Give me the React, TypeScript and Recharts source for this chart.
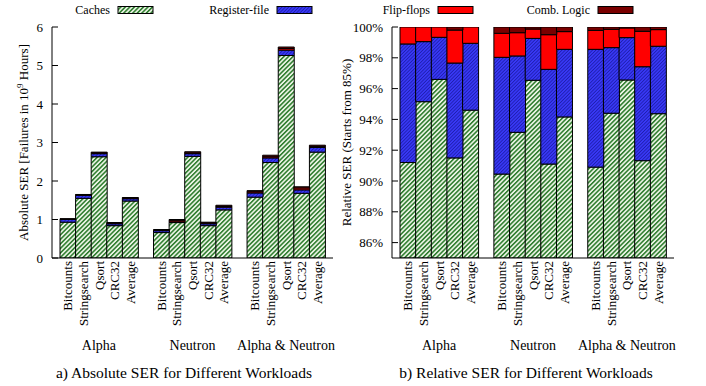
import React from "react";
import { BarChart, Bar, XAxis, YAxis } from "recharts";

const groups = ["Alpha", "Neutron", "Alpha & Neutron"];
const workloads = ["Bitcounts", "Stringsearch", "Qsort", "CRC32", "Average"];

// a) absolute SER, failures in 10^9 hours (group by group, workload order)
const absCaches = [0.93, 1.55, 2.63, 0.84, 1.48, 0.66, 0.92, 2.64, 0.84, 1.25, 1.58, 2.48, 5.26, 1.68, 2.75];
const absRegFile = [0.07, 0.08, 0.08, 0.05, 0.06, 0.05, 0.02, 0.07, 0.05, 0.07, 0.11, 0.12, 0.14, 0.09, 0.12];
const absFlipFlops = [0.01, 0.01, 0.02, 0.02, 0.02, 0.01, 0.04, 0.02, 0.02, 0.02, 0.03, 0.03, 0.04, 0.05, 0.03];
const absCombLogic = [0.01, 0.01, 0.02, 0.01, 0.01, 0.02, 0.02, 0.03, 0.02, 0.03, 0.03, 0.04, 0.04, 0.03, 0.03];

// b) relative SER, share of total in %
const relCaches = [91.2, 95.15, 96.6, 91.5, 94.6, 90.45, 93.16, 96.54, 91.1, 94.16, 90.9, 94.4, 96.56, 91.32, 94.37];
const relRegFile = [7.7, 3.9, 2.73, 6.16, 4.34, 7.58, 4.96, 2.72, 6.15, 4.39, 7.65, 4.26, 2.75, 6.1, 4.38];
const relFlipFlops = [1.1, 0.95, 0.67, 2.14, 1.06, 1.56, 1.51, 0.61, 2.25, 1.15, 1.23, 1.19, 0.63, 2.3, 1.08];
const relCombLogic = [0, 0, 0, 0.2, 0, 0.41, 0.37, 0.13, 0.5, 0.3, 0.22, 0.15, 0.06, 0.28, 0.17];

const absTicks = [0, 1, 2, 3, 4, 5, 6];
const relTicks = [86, 88, 90, 92, 94, 96, 98, 100];

const FONT = "Liberation Serif, Times New Roman, DejaVu Serif, serif";
const txt = { fontFamily: FONT };

function buildRows(c: number[], r: number[], f: number[], l: number[]) {
  const rows: any[] = [];
  groups.forEach((g, gi) => {
    if (gi > 0) rows.push({ key: `gap${gi}` });
    workloads.forEach((w, wi) => {
      const i = gi * workloads.length + wi;
      rows.push({ key: `${g}|${w}`, caches: c[i], regFile: r[i], flipFlops: f[i], combLogic: l[i] });
    });
  });
  return rows;
}

const absRows = buildRows(absCaches, absRegFile, absFlipFlops, absCombLogic);
const relRows = buildRows(relCaches, relRegFile, relFlipFlops, relCombLogic);

function Patterns({ id }: { id: string }) {
  return (
    <defs>
      <pattern id={`${id}-green`} width="3.2" height="3.2" patternUnits="userSpaceOnUse" patternTransform="rotate(45)">
        <rect width="3.2" height="3.2" fill="#e8f3e2" />
        <rect width="1.5" height="3.2" fill="#2b7a2b" />
      </pattern>
      <pattern id={`${id}-blue`} width="2.4" height="2.4" patternUnits="userSpaceOnUse" patternTransform="rotate(45)">
        <rect width="2.4" height="2.4" fill="#3838f4" />
        <rect width="0.8" height="2.4" fill="#1e1eae" />
      </pattern>
    </defs>
  );
}

function CatTick(props: any) {
  const { x, y, payload } = props;
  const [group, workload] = String(payload.value).split("|");
  if (!workload) return <g />;
  return (
    <g>
      <text transform={`translate(${x},${y}) rotate(-90)`} textAnchor="end" dy="0.35em" fontSize={13} fill="#000" style={txt}>
        {workload}
      </text>
      {workload === workloads[2] && (
        <text x={x} y={y + 89} textAnchor="middle" fontSize={14} fill="#000" style={txt}>
          {group}
        </text>
      )}
    </g>
  );
}

const makeLeftTick = (fmt: (v: number) => string) => (props: any) => {
  const { x, y, payload } = props;
  return (
    <g>
      <line x1={x + 9} x2={x + 15} y1={y} y2={y} stroke="#000" />
      <text x={x} y={y} dy="0.35em" textAnchor="end" fontSize={13} fill="#000" style={txt}>
        {fmt(payload.value)}
      </text>
    </g>
  );
};

function RightTick(props: any) {
  const { x, y } = props;
  return <line x1={x} x2={x - 6} y1={y} y2={y} stroke="#000" />;
}

function Panel({
  id,
  rows,
  domain,
  ticks,
  fmt,
  width,
  right,
}: {
  id: string;
  rows: any[];
  domain: [number, number];
  ticks: number[];
  fmt: (v: number) => string;
  width: number;
  right: number;
}) {
  const LeftTick = makeLeftTick(fmt);
  return (
    <BarChart
      width={width}
      height={386}
      data={rows}
      margin={{ top: 27, right, bottom: 0, left: 0 }}
      barCategoryGap={0}
      barGap={0}
    >
      <Patterns id={id} />
      <XAxis
        dataKey="key"
        height={128}
        interval={0}
        tickLine={false}
        tickSize={0}
        tickMargin={3}
        axisLine={{ stroke: "#000" }}
        padding={{ left: 8, right: 8 }}
        tick={<CatTick />}
      />
      <XAxis xAxisId="top" orientation="top" dataKey="key" height={0} tick={false} tickLine={false} axisLine={{ stroke: "#000" }} padding={{ left: 8, right: 8 }} />
      <YAxis
        width={52}
        type="number"
        domain={domain}
        ticks={ticks}
        allowDataOverflow
        tickLine={false}
        tickSize={0}
        tickMargin={9}
        axisLine={{ stroke: "#000" }}
        tick={<LeftTick />}
      />
      <YAxis
        yAxisId="right"
        orientation="right"
        width={0}
        type="number"
        domain={domain}
        ticks={ticks}
        allowDataOverflow
        tickLine={false}
        tickSize={0}
        tickMargin={0}
        axisLine={{ stroke: "#000" }}
        tick={<RightTick />}
      />
      <Bar dataKey="caches" stackId="s" fill={`url(#${id}-green)`} stroke="#000" strokeWidth={1} isAnimationActive={false} />
      <Bar dataKey="regFile" stackId="s" fill={`url(#${id}-blue)`} stroke="#000" strokeWidth={1} isAnimationActive={false} />
      <Bar dataKey="flipFlops" stackId="s" fill="#ff0000" stroke="#000" strokeWidth={1} isAnimationActive={false} />
      <Bar dataKey="combLogic" stackId="s" fill="#7a0000" stroke="#000" strokeWidth={1} isAnimationActive={false} />
    </BarChart>
  );
}

const legendItems = [
  { label: "Caches", fill: "url(#lg-green)", x: 118 },
  { label: "Register-file", fill: "url(#lg-blue)", x: 277 },
  { label: "Flip-flops", fill: "#ff0000", x: 438 },
  { label: "Comb. Logic", fill: "#7a0000", x: 598 },
];

export default function App() {
  return (
    <div style={{ position: "absolute", left: 0, top: 0, width: 706, height: 386, background: "#fff", fontFamily: FONT }}>
      <div style={{ position: "absolute", left: 0, top: 0 }}>
        <Panel id="abs" rows={absRows} domain={[0, 6]} ticks={absTicks} fmt={(v) => String(v)} width={340} right={7} />
      </div>
      <div style={{ position: "absolute", left: 340, top: 0 }}>
        <Panel id="rel" rows={relRows} domain={[85, 100]} ticks={relTicks} fmt={(v) => `${v}%`} width={366} right={32} />
      </div>
      <svg width={706} height={386} style={{ position: "absolute", left: 0, top: 0, pointerEvents: "none", fontFamily: FONT }}>
        <Patterns id="lg" />
        {legendItems.map((it) => (
          <g key={it.label}>
            <text x={it.x - 8} y={14} textAnchor="end" fontSize={12} fill="#000" style={txt}>
              {it.label}
            </text>
            <rect x={it.x} y={6.5} width={35} height={7} fill={it.fill} stroke="#000" strokeWidth={1} />
          </g>
        ))}
        <text transform="translate(28,142.5) rotate(-90)" textAnchor="middle" fontSize={13} fill="#000" style={txt}>
          Absolute SER [Failures in 10
          <tspan dy={-5} fontSize={9}>9</tspan>
          <tspan dy={5}> Hours]</tspan>
        </text>
        <text transform="translate(351,142.5) rotate(-90)" textAnchor="middle" fontSize={13} fill="#000" style={txt}>
          Relative SER (Starts from 85%)
        </text>
        <text x={184} y={378} textAnchor="middle" fontSize={15.5} fill="#000" style={txt}>
          a) Absolute SER for Different Workloads
        </text>
        <text x={526} y={378} textAnchor="middle" fontSize={15.5} fill="#000" style={txt}>
          b) Relative SER for Different Workloads
        </text>
      </svg>
    </div>
  );
}
